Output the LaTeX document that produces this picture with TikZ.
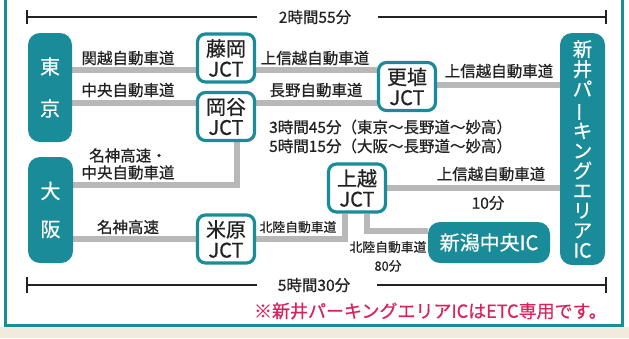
\documentclass[tikz,border=0pt]{standalone}
\usepackage{fontspec}
\setmainfont{Noto Sans CJK JP}[FakeBold=0.6]
\usepackage{graphicx}
\definecolor{tealc}{HTML}{1A8C99}
\definecolor{roadgray}{HTML}{B8B8B8}
\definecolor{txt}{HTML}{222222}
\definecolor{notered}{HTML}{D6245A}
\definecolor{beige}{HTML}{F1EBDD}
\pgfdeclarelayer{back}
\pgfdeclarelayer{bg}
\pgfsetlayers{back,bg,main}
\begin{document}
\begin{tikzpicture}[x=1pt,y=-1pt,
  city/.style={fill=tealc, rounded corners=12, text=white, inner sep=0, align=center},
  jct/.style={draw=tealc, line width=3.2, fill=white, rounded corners=8, minimum width=57, minimum height=48, inner sep=0, align=center, text=txt, font=\fontsize{20}{20.5}\selectfont},
  road/.style={draw=roadgray, line width=6},
  lbl/.style={font=\fontsize{15.5}{17}\selectfont, text=txt, inner sep=0, align=center},
  smalllbl/.style={font=\fontsize{12.8}{14}\selectfont, text=txt, inner sep=0, align=center},
  scaleline/.style={draw=txt, line width=1.3}
]
\useasboundingbox (0,0) rectangle (629,338);
\begin{pgfonlayer}{back}
\fill[white] (0,0) rectangle (629,338);
\fill[beige] (0,327) rectangle (629,338);
\draw[tealc, line width=3] (5.5,-3) -- (5.5,325.5) -- (622.5,325.5) -- (622.5,-3);
\end{pgfonlayer}

% cities and ICs
\node[city, minimum width=44, minimum height=109, font=\fontsize{20}{42}\selectfont] (tokyo) at (50,87.5) {東\\京};
\node[city, minimum width=45, minimum height=106, font=\fontsize{20}{38}\selectfont] (osaka) at (50.5,210) {大\\阪};
\node[city, minimum width=45, minimum height=232, font=\fontsize{19.5}{19.9}\selectfont] (arai) at (582.5,149)
  {新\\井\\パ\\\rotatebox[origin=c]{90}{ー}\\キ\\ン\\グ\\エ\\リ\\ア\\IC};
\node[city, minimum width=122, minimum height=41, font=\fontsize{20}{22}\selectfont] (nii) at (489,242.5) {新潟中央IC};

% junctions
\node[jct] (fuj) at (226,58) {藤岡\\JCT};
\node[jct] (oka) at (226,116.5) {岡谷\\JCT};
\node[jct] (kou) at (407,86.5) {更埴\\JCT};
\node[jct] (joe) at (357,188) {上越\\JCT};
\node[jct] (mai) at (226,239) {米原\\JCT};

% roads
\coordinate (k1) at ([yshift=-12]fuj.west);
\coordinate (k2) at ([yshift=-12]fuj.east);
\coordinate (c1) at ([yshift=13.5]oka.west);
\coordinate (c2) at ([yshift=13.5]oka.east);
\coordinate (mc) at ([yshift=25]osaka.east);
\coordinate (nw) at ([yshift=11.5]nii.west);
\begin{pgfonlayer}{bg}
\draw[road] (k1 -| tokyo.east) -- (k1);
\draw[road] (k2) -- (k2 -| kou.west);
\draw[road] (c1 -| tokyo.east) -- (c1);
\draw[road] (c2) -- (c2 -| kou.west);
\draw[road] ([yshift=1.5]kou.east) -- ([yshift=1.5]kou.east -| arai.west);
\draw[road] (mc) -| ([xshift=11]oka.south);
\draw[road] (mai.west -| osaka.east) -- (mai.west);
\draw[road] (mai.east) -| ([xshift=-12]joe.south);
\draw[road] (joe.east) -- (joe.east -| arai.west);
\draw[road] ([xshift=10]joe.south) |- (nw);
\end{pgfonlayer}

% road labels
\node[lbl] (l1) at (128,58) {関越自動車道};
\node[lbl] (l2) at (128,90) {中央自動車道};
\node[lbl] (l3) at (315,58) {上信越自動車道};
\node[lbl] (l4) at (316,90) {長野自動車道};
\node[lbl] (l5) at (499,71) {上信越自動車道};
\node[lbl] (l6) at (128,164) {名神高速・\\中央自動車道};
\node[lbl] (l7) at (128,227) {名神高速};
\node[smalllbl] (l8) at (298,227) {北陸自動車道};
\node[smalllbl] (l9) at (388,247) {北陸自動車道};
\node[smalllbl] (l10) at (388,266) {80分};
\node[lbl] (l11) at (491,174) {上信越自動車道};
\node[lbl] (l12) at (488,203) {10分};
\node[lbl, anchor=west] (t3) at (269,127) {3時間45分（東京〜長野道〜妙高）};
\node[lbl, anchor=west] (t5) at (269,146) {5時間15分（大阪〜長野道〜妙高）};

% scales
\node[lbl] (s1) at (315,17) {2時間55分};
\coordinate (s1l) at (27,17);
\coordinate (s1r) at (606,17);
\draw[scaleline] (s1l) -- (257,17);
\draw[scaleline] (378,17) -- (s1r);
\draw[scaleline] ([yshift=7]s1l) -- ([yshift=-7]s1l);
\draw[scaleline] ([yshift=7]s1r) -- ([yshift=-7]s1r);
\node[lbl] (s2) at (314,285) {5時間30分};
\coordinate (s2l) at (27,285);
\coordinate (s2r) at (606,285);
\draw[scaleline] (s2l) -- (257,285);
\draw[scaleline] (377,285) -- (s2r);
\draw[scaleline] ([yshift=8]s2l) -- ([yshift=-8]s2l);
\draw[scaleline] ([yshift=8]s2r) -- ([yshift=-8]s2r);

% note
\node[anchor=east, inner sep=0, text=notered, font=\fontsize{18}{19}\selectfont] (note) at (607,311) {※新井パーキングエリアICはETC専用です。};
\end{tikzpicture}
\end{document}
